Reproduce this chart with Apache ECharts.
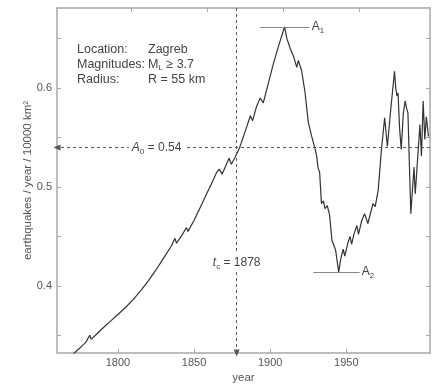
<!DOCTYPE html>
<html>
<head>
<meta charset="utf-8">
<script src="https://cdn.jsdelivr.net/npm/echarts@6/dist/echarts.min.js"></script>
<style>
  html, body { margin: 0; padding: 0; background: #fff; }
  #chart { width: 435px; height: 385px; }
</style>
</head>
<body>
<div id="chart"></div>
<script>
  // cumulative rate curve
  const YEARS = [
    1770, 1775, 1779, 1781.5, 1782.5, 1786, 1790, 1795, 1800, 1805, 1810, 1815, 1820, 1825, 1830, 1835,
    1837.5, 1838.5, 1842, 1845, 1846, 1850, 1854, 1858, 1862, 1865, 1866.5, 1868.5, 1871, 1873, 1874.5,
    1877, 1880, 1884, 1887, 1888.5, 1891, 1893.5, 1895.5, 1898, 1902, 1906, 1909.5, 1911, 1912, 1913.2,
    1914, 1915.4, 1917.5, 1918.5, 1919.5, 1920.6, 1922.8, 1925, 1927, 1929.4, 1930.5, 1931.5, 1932.5,
    1933.7, 1935, 1936, 1937.5, 1939, 1940, 1940.6, 1941.5, 1943, 1945, 1946.5, 1948, 1949, 1951, 1952.5,
    1953.5, 1955, 1957, 1958, 1960, 1962, 1964.2, 1967.5, 1969, 1971, 1973, 1975.2, 1977, 1979, 1981.7,
    1982.5, 1983.3, 1984, 1985, 1986.1, 1987.5, 1988.7, 1989.5, 1990.5, 1991.8, 1992.4, 1994.5, 1995.3,
    1998.4, 1999.4, 2000.5, 2001.6, 2002.6, 2004
  ]
  const RATE = [
    0.330, 0.337, 0.343, 0.350, 0.346, 0.351, 0.357, 0.364, 0.371, 0.378, 0.386, 0.395, 0.405, 0.416, 0.428, 0.440,
    0.448, 0.443, 0.451, 0.459, 0.455, 0.466, 0.479, 0.492, 0.505, 0.515, 0.518, 0.513, 0.522, 0.529, 0.523,
    0.530, 0.540, 0.558, 0.572, 0.567, 0.581, 0.590, 0.585, 0.600, 0.624, 0.645, 0.662, 0.650, 0.651, 0.640,
    0.641, 0.632, 0.621, 0.628, 0.626, 0.618, 0.597, 0.566, 0.553, 0.539, 0.532, 0.519, 0.515,
    0.483, 0.486, 0.478, 0.481, 0.472, 0.470, 0.446, 0.448, 0.436, 0.414, 0.428, 0.437, 0.430, 0.443, 0.450,
    0.442, 0.452, 0.461, 0.452, 0.465, 0.473, 0.463, 0.483, 0.480, 0.497, 0.536, 0.570, 0.541, 0.575, 0.617,
    0.600, 0.592, 0.595, 0.560, 0.538, 0.575, 0.587, 0.580, 0.575, 0.505, 0.473, 0.520, 0.493,
    0.563, 0.531, 0.587, 0.548, 0.571, 0.551
  ]

  const X_LABELS = [1800, 1850, 1900, 1950]
  const Y_LABELS = [0.4, 0.5, 0.6]
  const Y_TICKS = [0.35, 0.4, 0.45, 0.5, 0.55, 0.6, 0.65]

  const A0 = 0.54
  const TC = 1878
  const A1 = { value: 0.662, from: 1893.4, to: 1926 }
  const A2 = { value: 0.414, from: 1928.3, to: 1958.8 }

  const X_MIN = 1760, X_MAX = 2005
  const Y_MIN = 0.332, Y_MAX = 0.681

  const FONT = "'Liberation Sans', Arial, sans-serif"
  const AXIS_COLOR = '#a8a8a8'
  const TEXT_COLOR = '#555'

  const sub = { fontSize: 8, fontFamily: FONT, color: '#444', verticalAlign: 'bottom', lineHeight: 16, padding: [0, 0, 0, 0] }

  const axisBase = {
    axisLine: { show: true, lineStyle: { color: AXIS_COLOR, width: 1.5 } },
    splitLine: { show: false }
  }

  const options = {
    backgroundColor: '#fff',
    animation: false,
    grid: { left: 57, right: 5, top: 8, bottom: 32, outerBoundsMode: 'none' },
    xAxis: [
      {
        ...axisBase,
        type: 'value',
        min: X_MIN,
        max: X_MAX,
        name: 'year',
        nameLocation: 'middle',
        nameGap: 19,
        nameMoveOverlap: false,
        nameTextStyle: { color: TEXT_COLOR, fontSize: 11.5, fontFamily: FONT },
        axisTick: { show: true, inside: true, length: 4, customValues: X_LABELS, lineStyle: { color: AXIS_COLOR } },
        axisLabel: {
          color: TEXT_COLOR, fontSize: 11, fontFamily: FONT, margin: 4,
          customValues: X_LABELS,
          formatter: v => String(v)
        }
      },
      {
        // top frame, ticks sit a little to the right in the original
        ...axisBase,
        type: 'value',
        position: 'top',
        min: X_MIN - 8.6,
        max: X_MAX - 8.6,
        axisTick: { show: true, inside: true, length: 4, customValues: X_LABELS, lineStyle: { color: AXIS_COLOR } },
        axisLabel: { show: false }
      }
    ],
    yAxis: [
      {
        ...axisBase,
        type: 'value',
        min: Y_MIN,
        max: Y_MAX,
        name: 'earthquakes / year / 10000 km²',
        nameLocation: 'middle',
        nameGap: 23,
        nameMoveOverlap: false,
        nameTextStyle: { color: TEXT_COLOR, fontSize: 11.5, fontFamily: FONT },
        axisTick: { show: true, inside: true, length: 4, customValues: Y_TICKS, lineStyle: { color: AXIS_COLOR } },
        axisLabel: {
          color: TEXT_COLOR, fontSize: 11, fontFamily: FONT, margin: 5,
          customValues: Y_LABELS,
          formatter: v => v.toFixed(1)
        }
      },
      {
        ...axisBase,
        type: 'value',
        position: 'right',
        min: Y_MIN,
        max: Y_MAX,
        axisTick: { show: true, inside: true, length: 4, customValues: Y_TICKS, lineStyle: { color: AXIS_COLOR } },
        axisLabel: { show: false }
      }
    ],
    series: [
      {
        type: 'line',
        data: YEARS.map((y, i) => [y, RATE[i]]),
        showSymbol: false,
        clip: true,
        lineStyle: { color: '#333', width: 1.2 },
        z: 3,
        markPoint: {
          symbol: 'rect',
          symbolSize: 1,
          itemStyle: { color: 'transparent' },
          silent: true,
          data: [
            {
              coord: [1825.4, A0],
              label: {
                show: true,
                position: 'inside',
                backgroundColor: '#fff',
                padding: [1, 3],
                formatter: '{a|A}{s|0}{b| = ' + A0 + '}',
                rich: {
                  a: { fontSize: 12, fontStyle: 'italic', fontFamily: FONT, color: '#444', lineHeight: 16 },
                  s: sub,
                  b: { fontSize: 12, fontFamily: FONT, color: '#444', lineHeight: 16 }
                }
              }
            },
            {
              coord: [TC, 0.423],
              label: {
                show: true,
                position: 'inside',
                backgroundColor: '#fff',
                padding: [1, 2],
                formatter: '{a|t}{s|c}{b| = ' + TC + '}',
                rich: {
                  a: { fontSize: 12, fontStyle: 'italic', fontFamily: FONT, color: '#444', lineHeight: 16 },
                  s: sub,
                  b: { fontSize: 12, fontFamily: FONT, color: '#444', lineHeight: 16 }
                }
              }
            }
          ]
        }
      },
      {
        // dashed guide lines with arrows
        type: 'line',
        data: [],
        z: 2,
        markLine: {
          silent: true,
          symbolSize: [6, 7],
          label: { show: false },
          lineStyle: { color: '#555', type: [3, 3], width: 1 },
          data: [
            [{ coord: [X_MAX, A0], symbol: 'none' }, { coord: [X_MIN, A0], symbol: 'triangle' }],
            [{ coord: [TC, Y_MAX], symbol: 'none' }, { coord: [TC, Y_MIN], symbol: 'triangle' }]
          ]
        }
      },
      {
        // A1 / A2 level lines
        type: 'line',
        data: [],
        z: 2,
        markLine: {
          silent: true,
          symbol: 'none',
          lineStyle: { color: '#8a8a8a', type: 'solid', width: 1.2 },
          label: {
            show: true,
            position: 'end',
            distance: 2,
            rich: {
              a: { fontSize: 12, fontFamily: FONT, color: '#444', lineHeight: 16 },
              s: sub
            }
          },
          data: [
            [{ coord: [A1.from, A1.value], label: { formatter: '{a|A}{s|1}' } }, { coord: [A1.to, A1.value] }],
            [{ coord: [A2.from, A2.value], label: { formatter: '{a|A}{s|2}' } }, { coord: [A2.to, A2.value] }]
          ]
        }
      }
    ],
    graphic: [
      {
        type: 'text',
        x: 77,
        y: 42,
        style: {
          text: 'Location:\nMagnitudes:\nRadius:',
          font: '12.5px ' + FONT,
          fill: '#444',
          lineHeight: 15
        }
      },
      {
        type: 'text',
        x: 148,
        y: 42,
        style: {
          text: '{n|Zagreb}\n{n|M}{s|L}{n| ≥ 3.7}\n{n|R = 55 km}',
          rich: {
            n: { fontSize: 12.5, fontFamily: FONT, fill: '#444', lineHeight: 15 },
            s: { fontSize: 8, fontFamily: FONT, fill: '#444', lineHeight: 15, verticalAlign: 'bottom' }
          }
        }
      }
    ]
  }

  const chart = echarts.init(document.getElementById('chart'), null, { renderer: 'canvas' })
  chart.setOption(options)
</script>
</body>
</html>
